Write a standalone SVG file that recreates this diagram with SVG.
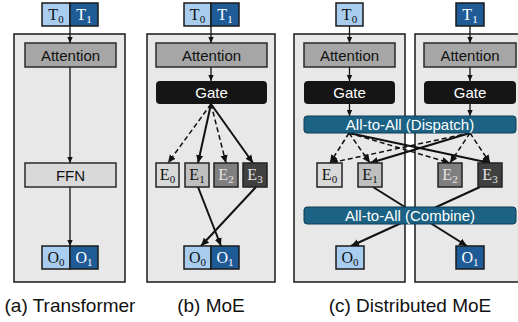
<svg xmlns="http://www.w3.org/2000/svg" width="518" height="322" viewBox="0 0 518 322">
<style>
.panel{fill:#e8e8e8;stroke:#1a1a1a;stroke-width:1.5}
.tl{fill:#a9cdef;stroke:#1a1a1a;stroke-width:1.5}
.td{fill:#1f5b97;stroke:#1a1a1a;stroke-width:1.5}
.att{fill:#a6a6a6;stroke:#2a2a2a;stroke-width:1.5}
.ffn{fill:#d9d9d9;stroke:#2a2a2a;stroke-width:1.5}
.gate{fill:#151515}
.bar{fill:#1b6284;stroke:#0e3c52;stroke-width:1}
.e0{fill:#d9d9d9;stroke:#222;stroke-width:1.5}
.e1{fill:#bfbfbf;stroke:#222;stroke-width:1.5}
.e2{fill:#7f7f7f;stroke:#222;stroke-width:1.5}
.e3{fill:#404040;stroke:#222;stroke-width:1.5}
.sans{font-family:"Liberation Sans",Arial,sans-serif;font-size:15px;text-anchor:middle}
.serif{font-family:"Liberation Serif","Times New Roman",serif;font-size:16px;text-anchor:middle}
.sub{font-size:11px}
.cap{font-family:"Liberation Sans",Arial,sans-serif;font-size:19px;text-anchor:middle;fill:#111}
.w{fill:#ffffff}
.lt{fill:#e6e6e6}
.k{fill:#111111}
.thin{stroke:#111;stroke-width:1.3;fill:none}
.solid{stroke:#111;stroke-width:2;fill:none}
.dash{stroke:#111;stroke-width:1.5;fill:none;stroke-dasharray:5 3}
</style>
<defs>
<marker id="ah" viewBox="0 0 10 10" refX="10" refY="5" markerWidth="6" markerHeight="6" markerUnits="userSpaceOnUse" orient="auto">
<path d="M0,0.5 L10,5 L0,9.5 z" fill="#111"/>
</marker>
<marker id="ahl" viewBox="0 0 10 10" refX="10" refY="5" markerWidth="8" markerHeight="8" markerUnits="userSpaceOnUse" orient="auto">
<path d="M0,0.5 L10,5 L0,9.5 z" fill="#111"/>
</marker>
</defs>

<g id="panels">
<rect id="panel-a" class="panel" x="14" y="34" width="111" height="248"/>
<rect id="panel-b" class="panel" x="147" y="34" width="128" height="248"/>
<rect id="panel-c-left" class="panel" x="294" y="34" width="111" height="248"/>
<rect id="panel-c-right" class="panel" x="415" y="34" width="110" height="248"/>
</g>

<g id="connectors">
<!-- (a) -->
<line class="thin" x1="70" y1="26" x2="70" y2="43" marker-end="url(#ah)"/>
<line class="thin" x1="70" y1="67" x2="70" y2="163" marker-end="url(#ah)"/>
<line class="thin" x1="70" y1="187" x2="70" y2="246" marker-end="url(#ah)"/>
<!-- (b) -->
<line class="thin" x1="211" y1="26" x2="211" y2="43" marker-end="url(#ah)"/>
<line class="thin" x1="211" y1="67" x2="211" y2="81" marker-end="url(#ah)"/>
<line class="dash" x1="211" y1="104" x2="168" y2="163" marker-end="url(#ahl)"/>
<line class="solid" x1="211" y1="104" x2="198" y2="163" marker-end="url(#ahl)"/>
<line class="dash" x1="211" y1="104" x2="226" y2="163" marker-end="url(#ahl)"/>
<line class="solid" x1="211" y1="104" x2="253" y2="163" marker-end="url(#ahl)"/>
<line class="solid" x1="198" y1="187" x2="221" y2="246" marker-end="url(#ahl)"/>
<line class="solid" x1="256" y1="187" x2="201" y2="246" marker-end="url(#ahl)"/>
<!-- (c) -->
<line class="thin" x1="349.5" y1="26" x2="349.5" y2="43" marker-end="url(#ah)"/>
<line class="thin" x1="349.5" y1="67" x2="349.5" y2="81" marker-end="url(#ah)"/>
<line class="thin" x1="349.5" y1="104" x2="349.5" y2="116" marker-end="url(#ah)"/>
<line class="thin" x1="470" y1="26" x2="470" y2="43" marker-end="url(#ah)"/>
<line class="thin" x1="470" y1="67" x2="470" y2="81" marker-end="url(#ah)"/>
<line class="thin" x1="470" y1="104" x2="470" y2="116" marker-end="url(#ah)"/>
<line class="dash" x1="349" y1="133" x2="330" y2="163" marker-end="url(#ahl)"/>
<line class="dash" x1="349" y1="133" x2="370" y2="163" marker-end="url(#ahl)"/>
<line class="dash" x1="349" y1="133" x2="450" y2="163" marker-end="url(#ahl)"/>
<line class="solid" x1="349" y1="133" x2="490" y2="163" marker-end="url(#ahl)"/>
<line class="dash" x1="470" y1="133" x2="330" y2="163" marker-end="url(#ahl)"/>
<line class="solid" x1="470" y1="133" x2="370" y2="163" marker-end="url(#ahl)"/>
<line class="dash" x1="470" y1="133" x2="450" y2="163" marker-end="url(#ahl)"/>
<line class="dash" x1="470" y1="133" x2="490" y2="163" marker-end="url(#ahl)"/>
<line class="solid" x1="373" y1="187" x2="467" y2="246" marker-end="url(#ahl)"/>
<line class="solid" x1="480" y1="187" x2="351" y2="246" marker-end="url(#ahl)"/>
</g>

<!-- (a) nodes -->
<g id="a-tokens">
<rect class="tl" x="42" y="3" width="28" height="23"/>
<rect class="td" x="70" y="3" width="28" height="23"/>
<text class="serif k" x="56" y="20">T<tspan class="sub" dy="3">0</tspan></text>
<text class="serif w" x="84" y="20">T<tspan class="sub" dy="3">1</tspan></text>
</g>
<g id="a-attention">
<rect class="att" x="25" y="43" width="91" height="24"/>
<text class="sans k" x="70.5" y="60.5">Attention</text>
</g>
<g id="a-ffn">
<rect class="ffn" x="25" y="163" width="91" height="24"/>
<text class="sans k" x="70.5" y="180.5">FFN</text>
</g>
<g id="a-outputs">
<rect class="tl" x="42" y="246" width="28" height="23"/>
<rect class="td" x="70" y="246" width="28" height="23"/>
<text class="serif k" x="56" y="263">O<tspan class="sub" dy="3">0</tspan></text>
<text class="serif w" x="84" y="263">O<tspan class="sub" dy="3">1</tspan></text>
</g>

<!-- (b) nodes -->
<g id="b-tokens">
<rect class="tl" x="184" y="3" width="27" height="23"/>
<rect class="td" x="211" y="3" width="28" height="23"/>
<text class="serif k" x="197.5" y="20">T<tspan class="sub" dy="3">0</tspan></text>
<text class="serif w" x="225" y="20">T<tspan class="sub" dy="3">1</tspan></text>
</g>
<g id="b-attention">
<rect class="att" x="156" y="43" width="111" height="24"/>
<text class="sans k" x="211.5" y="60.5">Attention</text>
</g>
<g id="b-gate">
<rect class="gate" x="156" y="81" width="111" height="23" rx="4"/>
<text class="sans w" x="211.5" y="98">Gate</text>
</g>
<g id="b-e0">
<rect class="e0" x="156" y="163" width="23" height="24"/>
<text class="serif k" x="167.5" y="180">E<tspan class="sub" dy="3">0</tspan></text>
</g>
<g id="b-e1">
<rect class="e1" x="185" y="163" width="24" height="24"/>
<text class="serif k" x="197" y="180">E<tspan class="sub" dy="3">1</tspan></text>
</g>
<g id="b-e2">
<rect class="e2" x="214" y="163" width="24" height="24"/>
<text class="serif lt" x="226" y="180">E<tspan class="sub" dy="3">2</tspan></text>
</g>
<g id="b-e3">
<rect class="e3" x="243" y="163" width="24" height="24"/>
<text class="serif lt" x="255" y="180">E<tspan class="sub" dy="3">3</tspan></text>
</g>
<g id="b-outputs">
<rect class="tl" x="184" y="246" width="27" height="23"/>
<rect class="td" x="211" y="246" width="28" height="23"/>
<text class="serif k" x="197.5" y="263">O<tspan class="sub" dy="3">0</tspan></text>
<text class="serif w" x="225" y="263">O<tspan class="sub" dy="3">1</tspan></text>
</g>

<!-- (c) nodes -->
<g id="c-t0">
<rect class="tl" x="336" y="3" width="27" height="23"/>
<text class="serif k" x="349.5" y="20">T<tspan class="sub" dy="3">0</tspan></text>
</g>
<g id="c-t1">
<rect class="td" x="456" y="3" width="28" height="23"/>
<text class="serif w" x="470" y="20">T<tspan class="sub" dy="3">1</tspan></text>
</g>
<g id="c-attention-left">
<rect class="att" x="304" y="43" width="91" height="24"/>
<text class="sans k" x="349.5" y="60.5">Attention</text>
</g>
<g id="c-attention-right">
<rect class="att" x="424" y="43" width="92" height="24"/>
<text class="sans k" x="470" y="60.5">Attention</text>
</g>
<g id="c-gate-left">
<rect class="gate" x="304" y="81" width="91" height="23" rx="4"/>
<text class="sans w" x="349.5" y="98">Gate</text>
</g>
<g id="c-gate-right">
<rect class="gate" x="424" y="81" width="92" height="23" rx="4"/>
<text class="sans w" x="470" y="98">Gate</text>
</g>
<g id="c-dispatch">
<rect class="bar" x="304" y="116" width="212" height="17" rx="3"/>
<text class="sans w" x="410" y="129.8">All-to-All (Dispatch)</text>
</g>
<g id="c-e0">
<rect class="e0" x="317" y="163" width="25" height="24"/>
<text class="serif k" x="329.5" y="180">E<tspan class="sub" dy="3">0</tspan></text>
</g>
<g id="c-e1">
<rect class="e1" x="358" y="163" width="24" height="24"/>
<text class="serif k" x="370" y="180">E<tspan class="sub" dy="3">1</tspan></text>
</g>
<g id="c-e2">
<rect class="e2" x="438" y="163" width="24" height="24"/>
<text class="serif lt" x="450" y="180">E<tspan class="sub" dy="3">2</tspan></text>
</g>
<g id="c-e3">
<rect class="e3" x="478" y="163" width="24" height="24"/>
<text class="serif lt" x="490" y="180">E<tspan class="sub" dy="3">3</tspan></text>
</g>
<g id="c-combine">
<rect class="bar" x="304" y="207" width="212" height="17" rx="3"/>
<text class="sans w" x="410" y="220.8">All-to-All (Combine)</text>
</g>
<g id="c-o0">
<rect class="tl" x="336" y="246" width="28" height="23"/>
<text class="serif k" x="350" y="263">O<tspan class="sub" dy="3">0</tspan></text>
</g>
<g id="c-o1">
<rect class="td" x="456" y="246" width="28" height="23"/>
<text class="serif w" x="470" y="263">O<tspan class="sub" dy="3">1</tspan></text>
</g>

<g id="captions">
<text class="cap" x="70" y="312">(a) Transformer</text>
<text class="cap" x="211" y="312">(b) MoE</text>
<text class="cap" x="410" y="312">(c) Distributed MoE</text>
</g>
</svg>
